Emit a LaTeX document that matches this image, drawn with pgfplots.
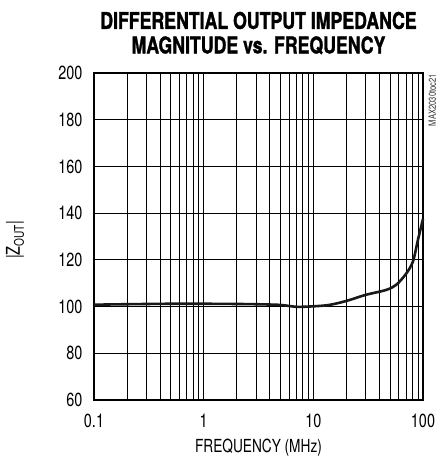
\documentclass[border=0pt]{standalone}
\usepackage{fontspec}
\setmainfont{TeX Gyre Heros}[FakeStretch=0.76]
\newfontfamily\titlefont{TeX Gyre Heros}[FakeStretch=0.77, BoldFeatures={FakeBold=1.3}]
\usepackage{pgfplots}
\pgfplotsset{compat=1.18}

\begin{document}
\begin{tikzpicture}
\begin{semilogxaxis}[
  scale only axis, width=329pt, height=327pt,
  xmin=0.1, xmax=100, ymin=60, ymax=200,
  xtick={0.1,1,10,100}, xticklabels={0.1,1,10,100},
  ytick={60,80,...,200},
  grid=both,
  major grid style={black, line width=0.9pt},
  minor grid style={black, line width=0.9pt},
  axis line style={black, line width=2.6pt},
  major tick length=0pt, minor tick length=0pt,
  /pgf/number format/assume math mode=true,
  tick label style={font=\fontsize{19}{21}\selectfont},
  xticklabel style={yshift=-11pt},
  yticklabel style={xshift=-8pt},
  clip=false,
]
\addplot[black!90, line width=2.6pt, smooth, tension=0.5] coordinates {
  (0.1,100.8) (0.2,101.0) (0.5,101.2) (1,101.2) (2,101.1) (3,101.0)
  (5,100.7) (7,99.9) (10,100.1) (14,100.7) (20,102.4) (30,105.0)
  (46,107.1) (57,109.3) (70,114.0) (81,119.3) (90,128.6) (100,137.5)
};
\node[font=\titlefont\fontsize{23}{24.5}\selectfont\bfseries, align=center, anchor=center]
  at (rel axis cs:0.5,1.122) {DIFFERENTIAL OUTPUT IMPEDANCE\\MAGNITUDE vs. FREQUENCY};
\node[font=\fontsize{18}{20}\selectfont] at (rel axis cs:0.5,-0.147) {FREQUENCY (MHz)};
\node[font=\fontsize{19}{20}\selectfont, rotate=90] at (rel axis cs:-0.24,0.49) {|Z\textsubscript{OUT}|};
\node[font=\fontsize{10}{11}\selectfont, rotate=90, anchor=east, text=black!80, inner sep=1pt] at (rel axis cs:1.028,1.0) {MAX2030toc21};
\path (rel axis cs:-0.2857,-0.1988) rectangle (rel axis cs:1.0547,1.2232);
\end{semilogxaxis}
\end{tikzpicture}
\end{document}
